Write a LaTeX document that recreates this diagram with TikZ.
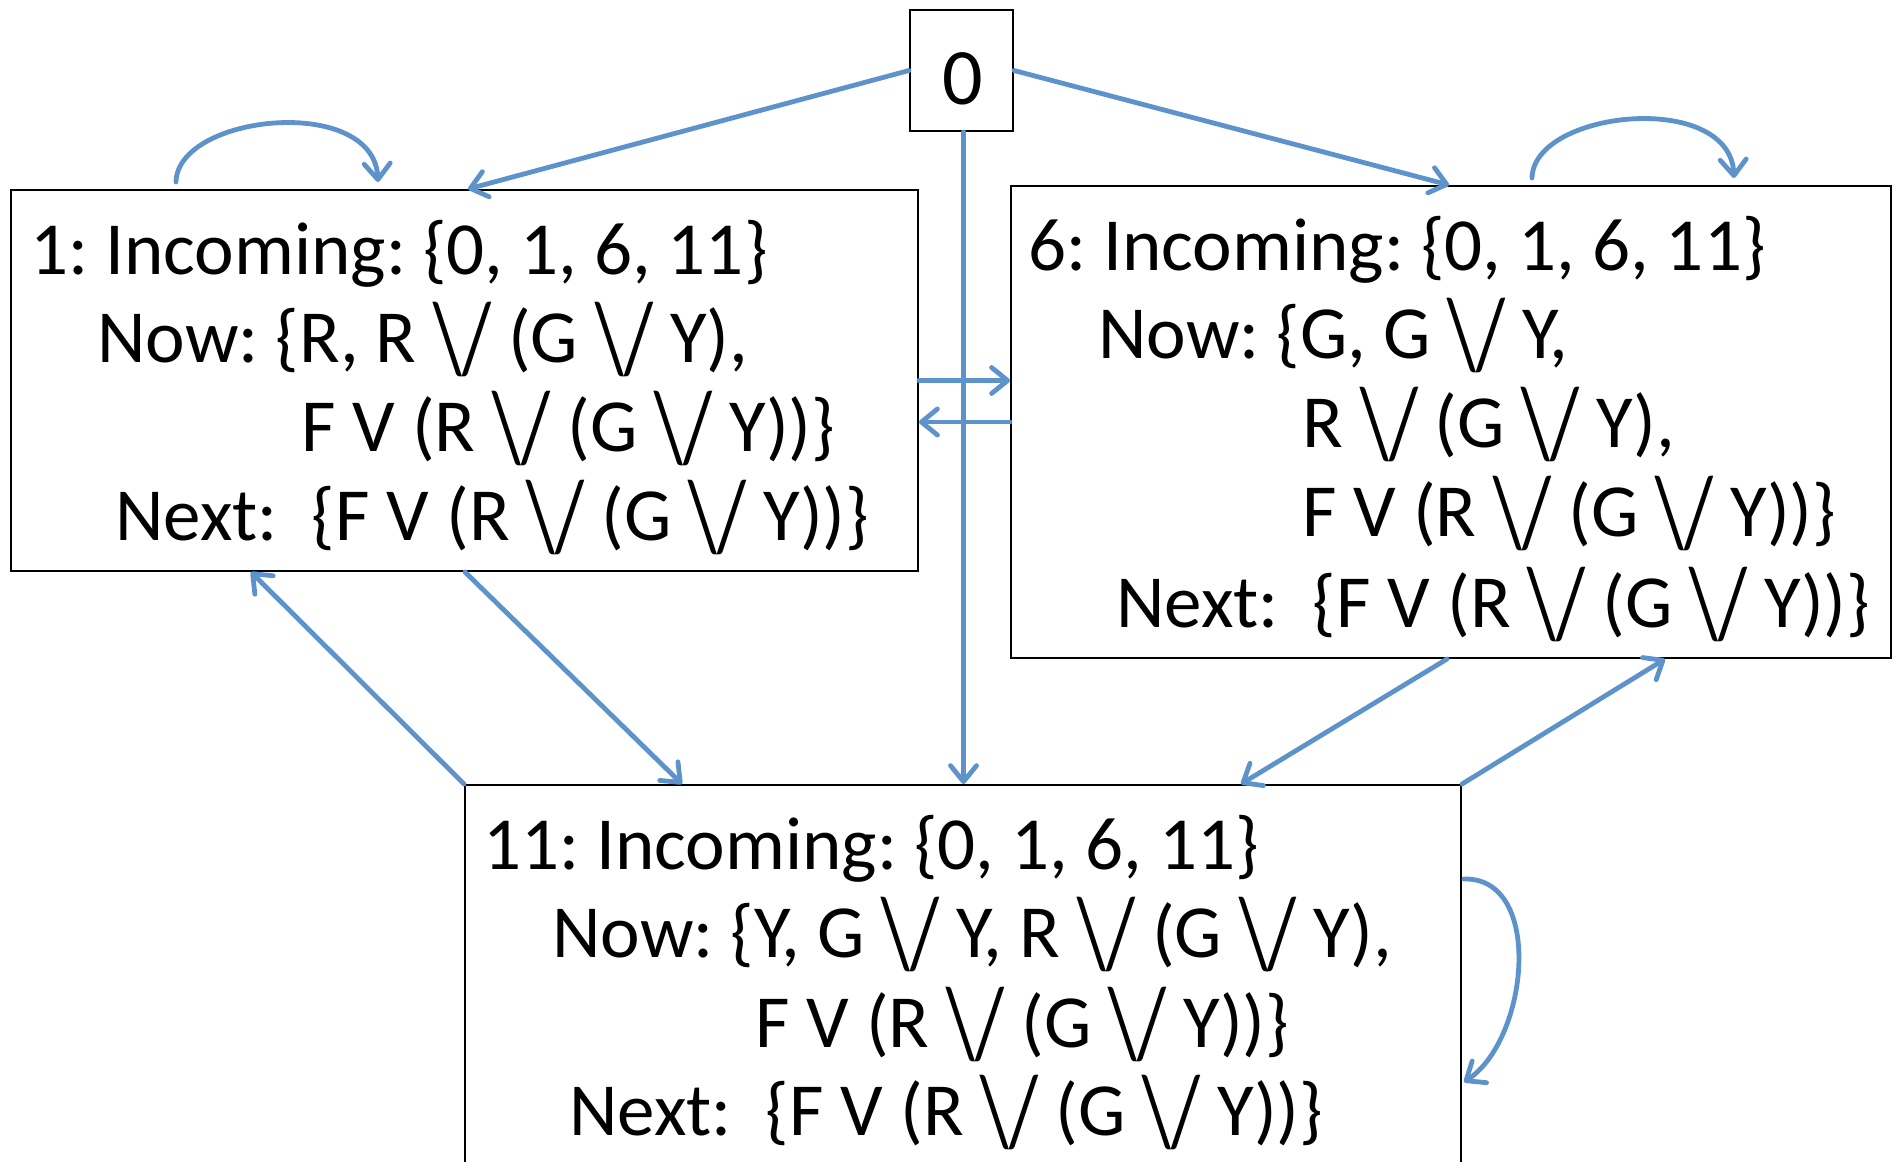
\documentclass[tikz,border=0pt]{standalone}
\usepackage{fontspec}
\usepackage{graphicx}
\setmainfont{Carlito}
\usetikzlibrary{arrows.meta,fit,calc}
\definecolor{edgeblue}{RGB}{93,146,203}
\newcommand{\vor}{\raisebox{-5pt}{\scalebox{1.0}[1.35]{\textbackslash/}}}
\begin{document}
\frenchspacing
\begin{tikzpicture}[x=0.5pt,y=-0.5pt,
  box/.style={draw=black,line width=1pt,inner sep=0pt},
  txt/.style={anchor=base west,inner sep=0pt,font=\fontsize{37.5}{44}\selectfont},
  edge/.style={draw=edgeblue,line width=2.4pt,line cap=round,-{Straight Barb[length=8pt,width=13pt,round]}}]
\useasboundingbox (0,0) rectangle (1896,1162);

% boxes
\node[box,fit={(910,10) (1013,131)}] (n0) {};
\node[box,fit={(11,190) (918,571)}] (b1) {};
\node[box,fit={(1011,186) (1891,658)}] (b6) {};
\node[box,fit={(465,785) (1461,1190)}] (b11) {};

% node 0 label
\node[anchor=base,inner sep=0pt,font=\fontsize{40}{48}\selectfont] (t0) at (963,104) {0};

% box 1 text
\node[txt] (b1l1) at (30,274) {1: Incoming: \{0, 1, 6, 11\}};
\node[txt] (b1l2) at (97,362) {Now: \{R, R \vor{} (G \vor{} Y),};
\node[txt] (b1l3) at (301,451) {F V (R \vor{} (G \vor{} Y))\}};
\node[txt] (b1l4) at (115,540) {Next:\ \ \{F V (R \vor{} (G \vor{} Y))\}};

% box 6 text
\node[txt] (b6l1) at (1028,270) {6: Incoming: \{0, 1, 6, 11\}};
\node[txt] (b6l2) at (1098,358) {Now: \{G, G \vor{} Y,};
\node[txt] (b6l3) at (1302,447) {R \vor{} (G \vor{} Y),};
\node[txt] (b6l4) at (1302,536) {F V (R \vor{} (G \vor{} Y))\}};
\node[txt] (b6l5) at (1116,627) {Next:\ \ \{F V (R \vor{} (G \vor{} Y))\}};

% box 11 text
\node[txt] (b11l1) at (483,869) {11: Incoming: \{0, 1, 6, 11\}};
\node[txt] (b11l2) at (552,957) {Now: \{Y, G \vor{} Y, R \vor{} (G \vor{} Y),};
\node[txt] (b11l3) at (755,1047) {F V (R \vor{} (G \vor{} Y))\}};
\node[txt] (b11l4) at (569,1135) {Next:\ \ \{F V (R \vor{} (G \vor{} Y))\}};

% edges from 0
\draw[edge] (n0.west) -- ([xshift=229pt]b1.north west);
\draw[edge] (n0.east) -- ([xshift=219.5pt]b6.north west);
\draw[edge] ([xshift=1pt]n0.south) -- ([xshift=1pt]n0.south |- b11.north);

% self loops
\draw[edge] ([xshift=83pt,yshift=3.5pt]b1.north west) .. controls +(1.5,-68) and +(-4,-88) .. ([xshift=184pt,yshift=3.5pt]b1.north west);
\draw[edge] ([xshift=261pt,yshift=3.5pt]b6.north west) .. controls +(1.5,-68) and +(-4,-88) .. ([xshift=362pt,yshift=3.5pt]b6.north west);
\draw[edge] ([xshift=1pt,yshift=-47.5pt]b11.north east) .. controls +(80,-2) and +(65,-43) .. ([xshift=1pt,yshift=-149pt]b11.north east);

% between box 1 and box 6
\draw[edge] (b1.east) -- (b1.east -| b6.west);
\draw[edge] (b6.west) -- (b6.west -| b1.east);

% box 1 <-> box 11
\draw[edge] ([xshift=227.5pt]b1.south west) -- ([xshift=109pt]b11.north west);
\draw[edge] (b11.north west) -- ([xshift=120.5pt]b1.south west);

% box 6 <-> box 11
\draw[edge] ([xshift=218.5pt]b6.south west) -- ([xshift=388.5pt]b11.north west);
\draw[edge] (b11.north east) -- ([xshift=327.5pt]b6.south west);
\end{tikzpicture}
\end{document}
